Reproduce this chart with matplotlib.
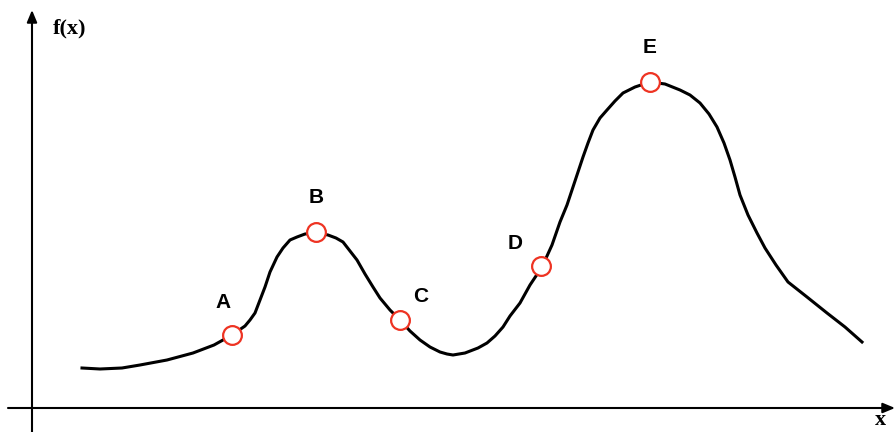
import matplotlib.pyplot as plt

# curve (origin at the axes crossing)
curve_x = [5.0, 6.8, 9.0, 10.8, 13.5, 16.1, 18.2, 20.0, 21.3, 21.8, 22.3, 22.8, 23.3, 23.8,
           24.5, 25.1, 25.8, 26.5, 27.3, 28.5, 29.6, 30.4, 31.1, 31.8, 32.5, 33.3, 34.1,
           34.8, 35.8, 36.9, 37.8, 38.8, 39.8, 40.8, 41.5, 42.1, 43.3, 44.6, 45.5, 46.3,
           47.1, 47.8, 48.8, 49.8, 51.0, 52.0, 52.8, 53.5, 54.1, 54.6, 55.1, 55.6, 56.1,
           56.8, 57.5, 58.3, 59.1, 60.3, 61.8, 63.3, 64.8, 65.8, 66.8, 67.7, 68.5, 69.2,
           69.8, 70.3, 70.8, 71.6, 72.5, 73.3, 74.4, 75.6, 77.5, 79.5, 81.3, 83.0]
curve_y = [4.0, 3.9, 4.0, 4.3, 4.8, 5.5, 6.3, 7.3, 8.2, 8.8, 9.5, 10.8, 12.1, 13.6,
           15.1, 16.0, 16.8, 17.1, 17.4, 17.5, 17.3, 17.0, 16.6, 15.7, 14.8, 13.4, 12.1,
           11.0, 9.8, 8.7, 7.7, 6.8, 6.1, 5.6, 5.4, 5.3, 5.5, 6.0, 6.5, 7.2,
           8.1, 9.2, 10.5, 12.3, 14.1, 16.3, 18.6, 20.3, 22.1, 23.6, 25.1, 26.5, 27.8,
           29.0, 29.8, 30.7, 31.5, 32.1, 32.6, 32.4, 31.8, 31.3, 30.5, 29.4, 28.1, 26.5,
           24.8, 23.1, 21.3, 19.3, 17.5, 16.0, 14.3, 12.6, 11.1, 9.5, 8.1, 6.6]

point_labels = ['A', 'B', 'C', 'D', 'E']
point_x = [20.0, 28.4, 36.8, 50.9, 61.8]
point_y = [7.3, 17.6, 8.8, 14.2, 32.6]
label_x = [19.1, 28.4, 38.9, 48.3, 61.8]
label_y = [10.6, 21.0, 11.2, 16.4, 36.0]

fig = plt.figure(figsize=(8.96, 4.32), dpi=100)
ax = fig.add_axes([0, 0, 1, 1])
ax.set_xlim(-3.2, 86.4)
ax.set_ylim(-2.4, 40.8)
ax.axis('off')

# axes with arrow heads
ax.annotate('', xy=(0, 39.8), xytext=(0, -2.4),
            arrowprops=dict(arrowstyle='-|>,head_length=0.6,head_width=0.25', lw=1.5,
                            color='black', mutation_scale=12, shrinkA=0, shrinkB=0))
ax.annotate('', xy=(86.3, 0), xytext=(-2.4, 0),
            arrowprops=dict(arrowstyle='-|>,head_length=0.6,head_width=0.25', lw=1.5,
                            color='black', mutation_scale=12, shrinkA=0, shrinkB=0))

ax.plot(curve_x, curve_y, color='black', lw=2.2, solid_joinstyle='round', zorder=2)
ax.plot(point_x, point_y, 'o', ms=13.5, mfc='white', mec='#ee3322', mew=1.6, zorder=3)

for lab, lx, ly in zip(point_labels, label_x, label_y):
    ax.text(lx, ly, lab, ha='center', va='center', fontsize=15, fontweight='bold',
            family='Liberation Sans')

ax.text(3.8, 38.0, 'f(x)', ha='center', va='center', fontsize=16, fontweight='bold',
        family='Liberation Serif')
ax.text(84.8, -1.2, 'x', ha='center', va='center', fontsize=16, fontweight='bold',
        family='Liberation Serif')

fig.savefig('out.png', dpi=100)
